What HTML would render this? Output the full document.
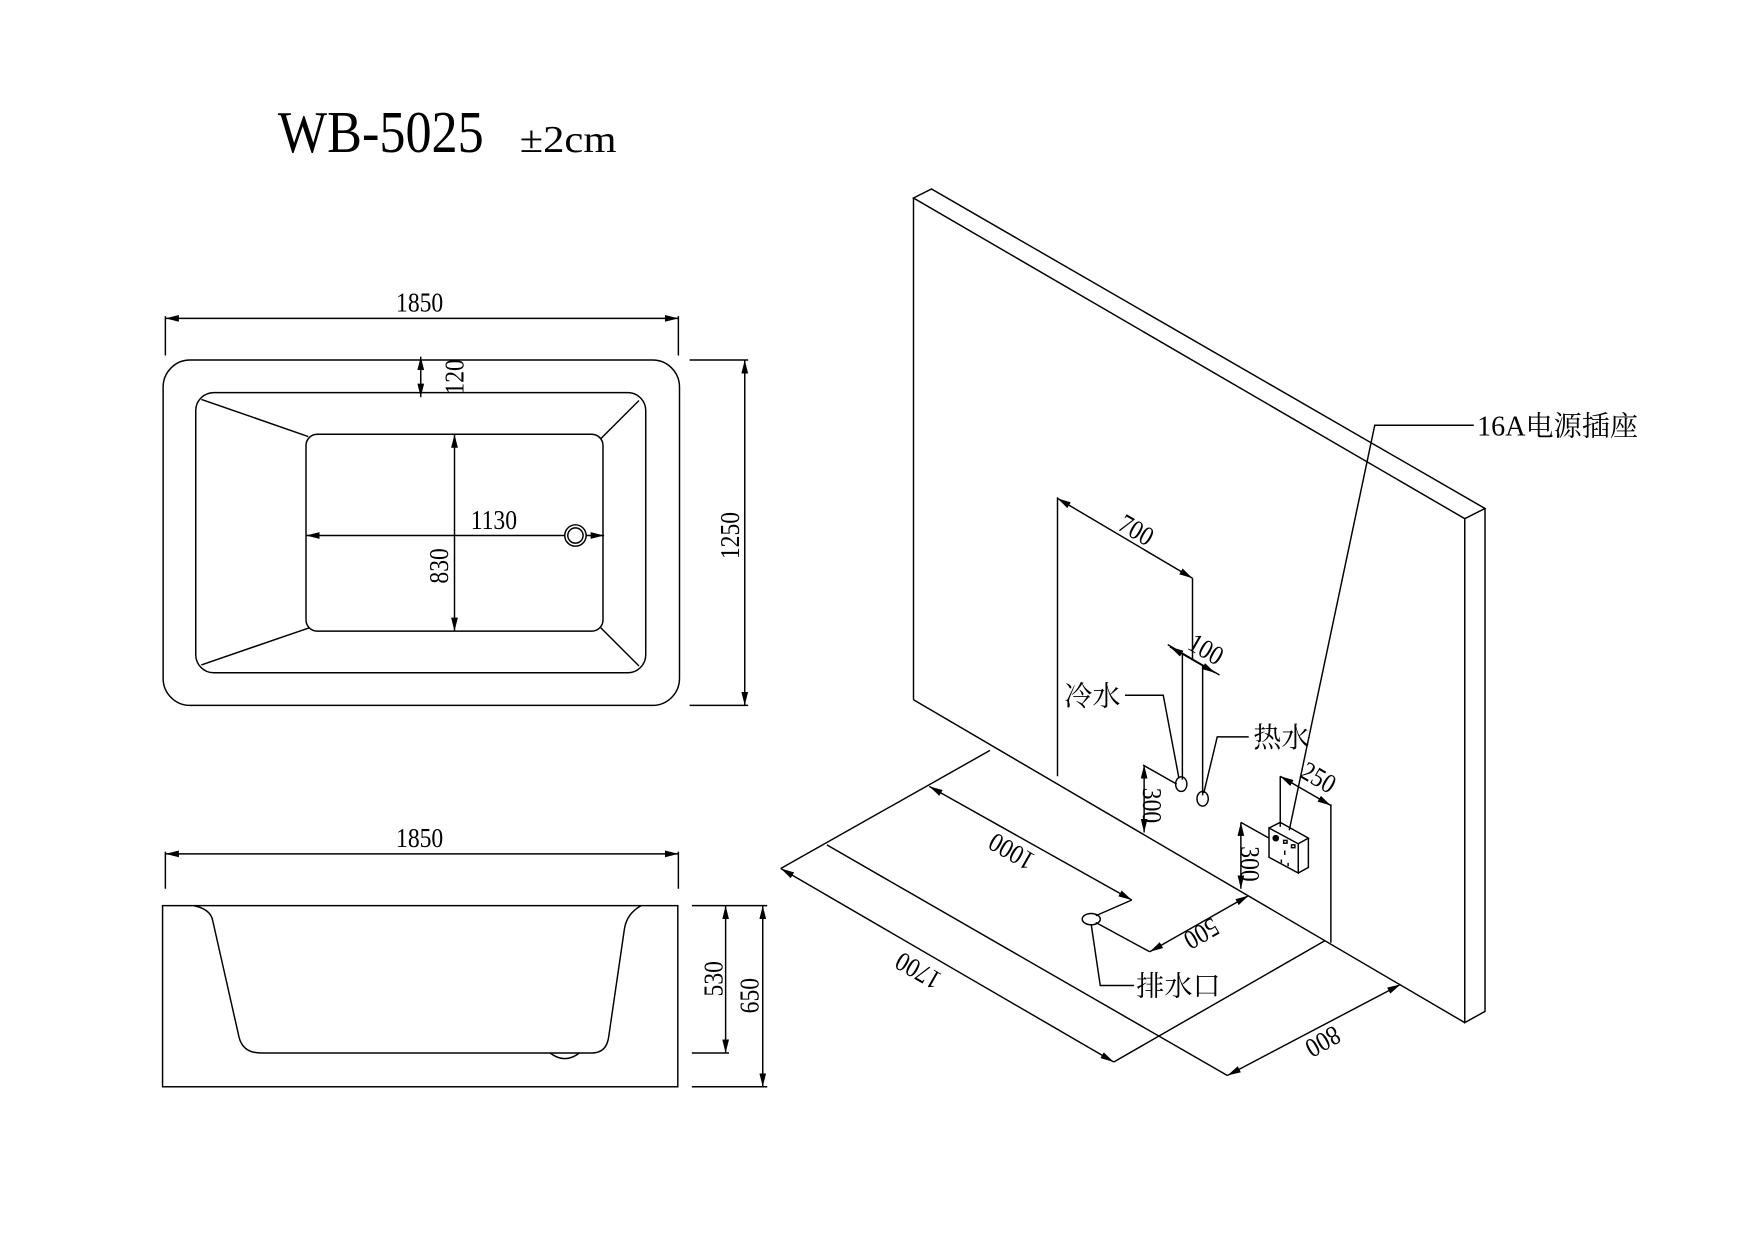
<!DOCTYPE html>
<html><head><meta charset="utf-8"><style>
html,body{margin:0;padding:0;background:#fff;}
svg{display:block;}
text{font-family:"Liberation Serif","Noto Serif CJK SC",serif;fill:#000;}
.c{font-family:"Liberation Serif","Noto Serif CJK SC","Noto Sans CJK SC",serif;}
</style></head><body>
<svg width="1755" height="1240" viewBox="0 0 1560 1102.2" xmlns="http://www.w3.org/2000/svg">
<defs>
<marker id="a" viewBox="0 0 12 6" refX="12" refY="3" markerWidth="12" markerHeight="6" markerUnits="userSpaceOnUse" orient="auto-start-reverse"><path d="M0,0 L12,3 L0,6 z" fill="#000"/></marker>
</defs>
<g fill="none" stroke="#000" stroke-width="1.3">
<!-- TOP VIEW -->
<line x1="147" y1="281" x2="147" y2="316"/><line x1="603" y1="281" x2="603" y2="316"/>
<line x1="147" y1="283" x2="603" y2="283" marker-start="url(#a)" marker-end="url(#a)"/>
<rect x="145" y="320" width="459" height="307" rx="24"/>
<rect x="174" y="349" width="400" height="249" rx="16"/>
<rect x="272" y="386" width="264" height="175" rx="10"/>
<line x1="179" y1="355" x2="274" y2="388"/>
<line x1="568" y1="356" x2="534" y2="390"/>
<line x1="179" y1="591" x2="275" y2="558"/>
<line x1="568" y1="592" x2="534" y2="558"/>
<line x1="374" y1="317" x2="374" y2="353" marker-start="url(#a)" marker-end="url(#a)"/>
<line x1="272" y1="476" x2="537" y2="476" marker-start="url(#a)" marker-end="url(#a)"/>
<circle cx="511.5" cy="476" r="9.5" fill="#fff"/><circle cx="511.5" cy="476" r="6.8"/>
<line x1="404" y1="386" x2="404" y2="561" marker-start="url(#a)" marker-end="url(#a)"/>
<line x1="613" y1="320" x2="665" y2="320"/><line x1="613" y1="627" x2="665" y2="627"/>
<line x1="662" y1="320" x2="662" y2="627" marker-start="url(#a)" marker-end="url(#a)"/>
<!-- SIDE VIEW -->
<line x1="147" y1="757" x2="147" y2="790"/><line x1="603" y1="757" x2="603" y2="790"/>
<line x1="147" y1="759" x2="603" y2="759" marker-start="url(#a)" marker-end="url(#a)"/>
<rect x="144.5" y="805" width="458" height="161"/>
<path d="M172,805 Q187,808 189,818 L212.5,922 Q216,936 232,936 L526,936 Q539,936 541,922 L555,826 Q557,812 570,805"/>
<path d="M489,936 Q502,946 515,936"/>
<line x1="615" y1="805" x2="682" y2="805"/><line x1="615" y1="936" x2="648" y2="936"/><line x1="615" y1="966" x2="682" y2="966"/>
<line x1="645" y1="805" x2="645" y2="936" marker-start="url(#a)" marker-end="url(#a)"/>
<line x1="678" y1="805" x2="678" y2="966" marker-start="url(#a)" marker-end="url(#a)"/>
<!-- WALL -->
<path d="M812,176 L812,622"/>
<path d="M812,176 L828,168 L1320,452 L1302,461 Z"/>
<path d="M1302,461 L1302,909 L1320,899 L1320,452"/>
<line x1="812" y1="622" x2="1302" y2="909"/>
<!-- floor -->
<line x1="880" y1="667" x2="694" y2="772"/>
<line x1="694" y1="772" x2="990" y2="944" marker-start="url(#a)" marker-end="url(#a)"/>
<line x1="990" y1="944" x2="1178" y2="836"/>
<line x1="735" y1="751" x2="1091" y2="956"/>
<line x1="1091" y1="956" x2="1245" y2="875" marker-start="url(#a)" marker-end="url(#a)"/>
<!-- 700 -->
<line x1="940" y1="442" x2="940" y2="690"/>
<line x1="940" y1="443" x2="1060" y2="514" marker-start="url(#a)" marker-end="url(#a)"/>
<line x1="1060" y1="514" x2="1060" y2="587"/>
<!-- 100 -->
<line x1="1038" y1="573" x2="1084" y2="600"/>
<line x1="1040" y1="575" x2="1080" y2="598" marker-start="url(#a)" marker-end="url(#a)"/>
<line x1="1051" y1="581" x2="1051" y2="693"/>
<line x1="1069" y1="591" x2="1069" y2="707"/>
<ellipse cx="1050" cy="697" rx="5" ry="6.5"/>
<ellipse cx="1069" cy="710" rx="5" ry="6.5"/>
<polyline points="1000,618 1034,618 1048,692"/>
<polyline points="1110,655 1082,655 1070,705"/>
<!-- 300 left -->
<line x1="1016" y1="680" x2="1046" y2="697"/>
<line x1="1017" y1="680" x2="1017" y2="740" marker-start="url(#a)" marker-end="url(#a)"/>
<!-- socket -->
<path d="M1128,736 L1154,750 L1154,776 L1128,762 Z"/>
<path d="M1128,736 L1138,731 L1163,745 L1154,750 M1163,745 L1163,771 L1154,776"/>
<circle cx="1134" cy="745" r="2.3" fill="#000"/>
<rect x="1141" y="747" width="3" height="2.5"/><rect x="1148" y="751" width="3" height="2.5"/>
<line x1="1142" y1="756" x2="1142" y2="760"/>
<line x1="1139" y1="764" x2="1139" y2="767"/><line x1="1145" y1="767" x2="1145" y2="770"/>
<polyline points="1146,738 1222,378 1310,378"/>
<!-- 250 -->
<line x1="1138" y1="690" x2="1138" y2="735"/>
<line x1="1138" y1="690" x2="1183" y2="716" marker-start="url(#a)" marker-end="url(#a)"/>
<line x1="1183" y1="715" x2="1183" y2="838"/>
<!-- 300 right -->
<line x1="1103" y1="731" x2="1128" y2="745"/>
<line x1="1103" y1="731" x2="1103" y2="790" marker-start="url(#a)" marker-end="url(#a)"/>
<!-- 1000 -->
<line x1="826" y1="699" x2="1006" y2="800" marker-start="url(#a)" marker-end="url(#a)"/>
<line x1="1006" y1="800" x2="974" y2="814"/>
<ellipse cx="970" cy="817" rx="8" ry="5"/>
<!-- 500 -->
<line x1="974" y1="820" x2="1022" y2="846"/>
<line x1="1022" y1="846" x2="1110" y2="796" marker-start="url(#a)" marker-end="url(#a)"/>
<polyline points="970,822 978,876 1008,876"/>
</g>
<!-- texts -->
<text transform="translate(247,135) scale(1,1.25)" font-size="42" textLength="183" lengthAdjust="spacingAndGlyphs">WB-5025</text>
<text transform="translate(462,135) scale(1,1.2)" font-size="28" textLength="86" lengthAdjust="spacingAndGlyphs">±2cm</text>
<g font-size="21" text-anchor="middle">
<text transform="translate(373,277) scale(1,1.15)">1850</text>
<text transform="translate(439,470) scale(1,1.15)">1130</text>
<text transform="translate(373,753) scale(1,1.15)">1850</text>
<text transform="translate(412,335) rotate(-90) scale(1,1.15)">120</text>
<text transform="translate(398,503) rotate(-90) scale(1,1.15)">830</text>
<text transform="translate(657,476) rotate(-90) scale(1,1.15)">1250</text>
<text transform="translate(642,870) rotate(-90) scale(1,1.15)">530</text>
<text transform="translate(674,885) rotate(-90) scale(1,1.15)">650</text>
<text transform="translate(1006,478) rotate(30) scale(1,1.15)">700</text>
<text transform="translate(1068,584) rotate(30) scale(1,1.15)">100</text>
<text transform="translate(1168,698) rotate(30) scale(1,1.15)">250</text>
<text transform="translate(1016,716) rotate(90) scale(1,1.15)">300</text>
<text transform="translate(1103,768) rotate(90) scale(1,1.15)">300</text>
<text transform="translate(903,750) rotate(210) scale(1,1.15)">1000</text>
<text transform="translate(820,856) rotate(210) scale(1,1.15)">1700</text>
<text transform="translate(1064,823) rotate(150) scale(1,1.15)">500</text>
<text transform="translate(1172,919) rotate(150) scale(1,1.15)">800</text>
</g>
<g font-size="25" class="c">
<text x="946" y="627">冷水</text>
<text x="1114" y="664">热水</text>
<text x="1010" y="885">排水口</text>
<text x="1313" y="387">16A电源插座</text>
</g>
</svg>
</body></html>
